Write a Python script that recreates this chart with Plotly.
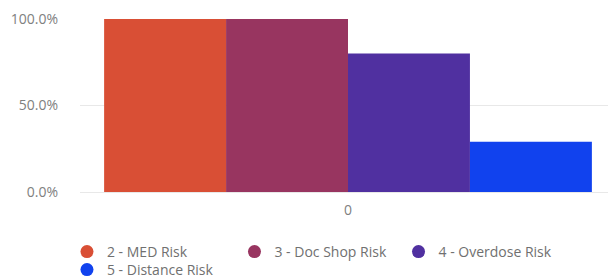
import plotly.graph_objects as go

categories = ["0"]
series_names = ["2 - MED Risk", "3 - Doc Shop Risk", "4 - Overdose Risk", "5 - Distance Risk"]
series_values = [[1.0], [1.0], [0.8], [0.29]]
colors = ["#D94F35", "#983560", "#5030A0", "#1142EE"]
y_tickvals = [0, 0.5, 1.0]

fig = go.Figure()
for name, vals, c in zip(series_names, series_values, colors):
    fig.add_trace(go.Bar(x=categories, y=vals, name=name, marker=dict(color=c, line=dict(width=0)),
                         showlegend=False))

# legend entries with round markers, one legend each to mimic the original layout
legend_pos = [("legend", 0.097, 0.0963), ("legend2", 0.3725, 0.0963),
              ("legend3", 0.6423, 0.0963), ("legend4", 0.097, 0.0296)]
for (lg, lx, ly), name, c in zip(legend_pos, series_names, colors):
    fig.add_trace(go.Scatter(x=[None], y=[None], mode="markers", name=name, legend=lg,
                             marker=dict(color=c, size=13, symbol="circle")))

font = dict(family="Open Sans", size=14, color="#707070")
fig.update_layout(
    width=608, height=270,
    margin=dict(l=72, r=0, t=11, b=86),
    plot_bgcolor="white", paper_bgcolor="white",
    font=font,
    barmode="group", bargap=0.09, bargroupgap=0,
    xaxis=dict(type="category", showgrid=False, showline=False, zeroline=False,
               tickfont=dict(size=14, color="#808080"), ticks="", automargin=False,
               ticklabelstandoff=8),
    yaxis=dict(range=[0, 1.0], tickvals=y_tickvals, tickformat=".1%",
               showgrid=True, gridcolor="#E8E8E8", gridwidth=1, zeroline=True,
               zerolinecolor="#E8E8E8", zerolinewidth=1, automargin=False,
               tickfont=dict(size=14, color="#808080"), ticklabelstandoff=21),
)
for lg, lx, ly in legend_pos:
    fig.update_layout({lg: dict(x=lx, y=ly, xref="container", yref="container",
                                xanchor="left", yanchor="middle",
                                orientation="h", bgcolor="rgba(0,0,0,0)",
                                font=dict(family="Open Sans", size=14, color="#707070"))})

fig.write_html("out.html")
